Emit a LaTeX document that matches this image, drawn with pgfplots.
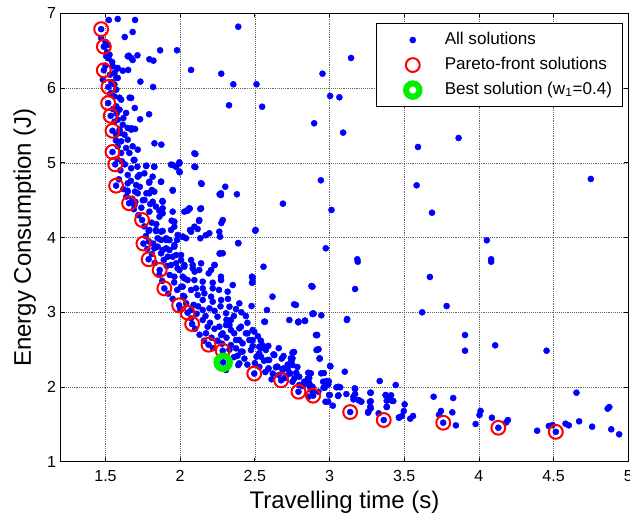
\documentclass[border=0pt]{standalone}
\usepackage{fontspec}
\setmainfont{Liberation Sans}
\usepackage{pgfplots}
\pgfplotsset{compat=1.18}
\definecolor{mblue}{RGB}{0,0,255}
\definecolor{mred}{RGB}{255,0,0}
\definecolor{mgreen}{RGB}{0,240,0}
\begin{document}
\begin{tikzpicture}
\begin{axis}[
  name=ax,
  scale only axis,
  width=425.7pt, height=336.2pt,
  xmin=1.2, xmax=5, ymin=1, ymax=7,
  xtick={1.5,2,2.5,3,3.5,4,4.5,5},
  xticklabels={1.5,2,2.5,3,3.5,4,4.5,5},
  ytick={1,2,3,4,5,6,7},
  yticklabels={1,2,3,4,5,6,7},
  /pgf/number format/assume math mode=true,
  grid=major,
  grid style={densely dotted, gray!80!black, line width=0.5pt},
  axis line style={line width=0.9pt},
  tick style={black, line width=0.6pt},
  major tick length=3pt,
  tick label style={font=\fontsize{12}{14}\selectfont},
  xticklabel style={yshift=-3pt},
  label style={font=\fontsize{18}{21}\selectfont},
  xlabel={Travelling time (s)},
  ylabel={Energy Consumption (J)},
  ylabel style={xshift=0pt, yshift=1.5pt},
  legend image code/.code={\path[draw=none] (-7pt,-6pt) rectangle (33pt,6pt);
     \draw[mark repeat=2,mark phase=2,#1] plot coordinates {(0pt,0pt) (12pt,0pt) (24pt,0pt)};},
  legend cell align=left,
  legend style={at={(0.991,0.9795)}, anchor=north east, draw=black, line width=0.8pt,
     font=\fontsize{12.8}{15}\selectfont, inner xsep=8pt, inner ysep=6.5pt, row sep=6.5pt,
     nodes={draw=none, inner xsep=0pt, inner ysep=0pt, text depth=3pt}},
  /tikz/every odd column/.append style={column sep=3pt},
]
\addplot[only marks, mark=*, mark size=2.3pt, mark options={draw=mblue, fill=mblue, line width=0.3pt}] coordinates {
(1.471,6.79) (1.489,6.556) (1.489,6.24) (1.52,6.016) (1.518,5.80) (1.535,5.63) (1.547,5.43) (1.547,5.146)
(1.565,4.98) (1.571,4.695) (1.658,4.46) (1.745,4.236) (1.754,3.92) (1.789,3.71) (1.863,3.566) (1.894,3.32)
(1.993,3.094) (2.05,2.995) (2.08,2.843) (2.19,2.566) (2.285,2.486) (2.496,2.18) (2.676,2.09) (2.792,1.937)
(2.89,1.884) (3.138,1.665) (3.363,1.558) (3.761,1.522) (4.13,1.455) (4.515,1.40) (2.288,2.33)
(1.522,6.913) (1.582,6.926) (1.698,6.913) (1.629,6.685) (1.682,6.752) (2.389,6.823) (1.866,6.507) (1.979,6.507)
(1.656,6.435) (1.714,6.44) (1.682,6.377) (1.794,6.387) (1.821,6.368) (2.073,6.244) (2.275,6.194) (1.578,6.26)
(1.616,6.234) (1.652,6.244) (1.582,6.137) (1.734,6.087) (1.819,6.016) (2.356,6.052) (2.511,6.052) (2.327,5.771)
(2.549,5.752) (2.897,5.53) (1.594,5.873) (1.662,5.873) (1.696,5.735) (1.732,5.584) (1.792,5.651) (1.676,5.463)
(1.698,5.454) (1.828,5.262) (1.874,5.244) (2.102,5.119) (1.995,5.008) (1.939,4.976) (1.973,4.945) (1.997,4.874)
(2.102,4.945) (1.826,4.949) (1.774,4.963) (1.689,5.039) (1.714,4.949) (1.727,4.838) (1.872,4.748) (1.792,4.735)
(2.144,4.718) (2.302,4.681) (2.264,4.58) (2.38,4.58) (1.95,4.628) (2.688,4.454) (1.881,4.49) (1.81,4.637)
(1.774,4.593) (1.698,4.615) (1.647,4.628) (2.135,4.383) (2.05,4.36) (2.064,4.387) (1.883,4.325) (2.126,4.222)
(1.943,4.226) (2.066,4.102) (2.117,4.115) (2.171,4.031) (2.267,4.012) (2.276,4.195) (2.505,4.102) (2.389,3.928)
(2.264,3.785) (2.019,4.012) (1.979,3.968) (1.926,3.968) (1.789,4.088) (1.838,4.088) (1.883,4.088)
(3.144,6.404) (2.953,6.194) (3.004,5.896) (3.066,5.878) (3.091,5.405) (3.592,5.213) (3.864,5.333) (4.749,4.785)
(2.942,4.767) (3.583,4.70) (3.013,4.37) (3.686,4.333) (4.053,3.964) (2.975,3.857) (3.186,3.71) (4.082,3.71)
(3.189,3.677) (4.082,3.677) (2.882,3.348) (3.171,3.312) (3.672,3.473) (3.784,3.084) (3.62,3.0) (2.893,2.98)
(2.945,2.96) (3.118,2.91) (2.917,2.696) (3.907,2.696) (3.907,2.486) (2.926,2.505) (2.935,2.379) (4.109,2.558)
(4.453,2.486) (3.006,2.277) (2.962,2.187) (3.102,2.205) (3.336,2.08) (3.443,2.027) (2.995,2.076) (2.968,1.991)
(3.06,2.004) (3.169,1.982) (3.276,1.924) (3.376,1.889) (3.412,1.889) (3.697,1.87) (3.828,1.853) (4.653,1.924)
(3.002,1.893) (3.06,1.889) (3.113,1.906) (3.16,1.87) (3.202,1.817) (2.991,1.803) (3.022,1.75) (3.276,1.809)
(3.273,1.736) (3.258,1.656) (3.383,1.817) (3.416,1.817) (3.383,1.736) (3.503,1.768) (3.497,1.679) (3.485,1.612)
(3.465,1.594) (3.54,1.576) (3.559,1.612) (3.329,1.648) (3.746,1.679) (3.733,1.629) (3.822,1.661) (3.846,1.487)
(4.011,1.679) (4.004,1.625) (3.978,1.505) (4.087,1.589) (4.194,1.558) (4.183,1.527) (4.39,1.415) (4.468,1.478)
(4.493,1.491) (4.58,1.509) (4.602,1.487) (4.671,1.541) (4.758,1.469) (4.862,1.71) (4.873,1.732) (4.886,1.434)
(4.939,1.367)
(2.563,2.874) (2.79,2.866) (2.835,2.884) (3.116,2.897) (2.915,2.696) (2.924,2.505) (2.933,2.384) (3.004,2.281)
(2.762,2.469) (2.745,2.348) (2.785,2.268) (2.777,2.191) (2.764,2.116) (2.857,2.191) (2.855,2.116) (2.855,2.04)
(2.868,2.004) (2.944,2.183) (2.957,2.071) (2.98,2.08) (2.992,2.036) (2.96,1.991) (2.925,1.937) (2.973,1.803)
(3.046,1.996) (3.071,1.996) (2.997,1.893) (3.057,1.88) (3.171,1.977) (3.171,1.906) (3.16,1.835) (3.193,1.826)
(3.213,1.803) (3.273,1.924) (3.27,1.803) (3.276,1.715) (3.26,1.67) (3.376,1.893) (3.398,1.84) (3.427,1.813)
(3.383,1.732) (3.465,1.589) (2.628,2.432) (2.59,2.245) (2.612,2.103) (2.648,2.272) (2.692,2.25) (2.708,2.147)
(2.737,2.183) (2.752,2.071) (2.797,2.027) (2.819,2.013) (2.886,1.937) (2.859,1.87) (2.741,2.384) (2.757,2.465)
(2.692,2.415) (2.625,2.437) (2.541,2.522) (2.511,2.406) (2.561,2.352) (2.485,2.549) (2.552,2.558) (2.529,2.451)
(2.596,2.362) (2.384,2.419) (2.396,2.317) (2.418,2.473) (2.485,2.629) (2.451,2.719) (2.362,2.719) (2.396,2.629)
(2.34,2.562) (2.374,2.518) (2.33,2.83) (2.407,2.807) (2.485,2.763) (2.274,2.696)
(2.503,4.092) (2.389,3.924) (2.267,3.79) (2.558,3.61) (2.231,3.633) (2.191,3.522) (2.084,3.589) (2.097,3.544)
(2.05,3.432) (2.151,3.41) (2.218,3.396) (2.274,3.432) (2.352,3.365) (2.485,3.401) (2.481,3.477) (2.318,3.276)
(2.396,3.12) (2.478,3.084) (2.618,3.209) (2.581,3.031) (2.568,2.874) (2.775,3.098) (2.731,2.897) (2.792,2.874)
(2.835,2.888) (2.886,3.343) (2.89,2.987) (2.909,2.696) (2.913,2.495) (2.162,3.254) (2.207,3.209) (2.218,3.142)
(2.274,3.165) (2.151,3.031) (2.196,3.053) (2.25,2.941) (2.307,2.987) (2.33,3.075) (2.374,3.044) (2.262,2.807)
(2.307,2.83) (2.34,2.897) (2.284,2.719) (2.34,2.763) (2.396,2.786) (2.44,2.719) (2.374,2.629) (2.418,2.585)
(2.463,2.629) (2.496,2.741) (2.407,2.473) (2.474,2.495) (2.389,2.294) (2.529,2.539) (2.541,2.406) (2.585,2.362)
(2.63,2.428) (2.574,2.495) (2.752,2.459) (2.752,2.384) (2.652,2.272) (2.173,2.719) (2.184,2.807) (2.151,2.897)
(2.073,2.919) (2.073,3.031) (2.028,3.209) (2.006,3.343) (2.106,3.321) (2.117,3.231) (2.151,3.165) (1.95,3.744)
(1.973,3.656) (2.006,3.767) (2.028,3.61) (1.928,3.834) (1.906,3.968) (1.883,3.834) (1.961,3.901) (1.995,3.566)
(2.017,3.477) (1.983,4.035) (2.084,3.633) (2.307,2.228)
(1.694,5.039) (1.772,4.958) (1.827,4.949) (1.672,4.928) (1.95,4.972) (1.995,4.995) (1.995,4.882) (2.095,4.949)
(2.095,5.128) (2.14,4.727) (1.649,4.838) (1.716,4.815) (1.816,4.815) (1.794,4.748) (1.872,4.748) (1.649,4.727)
(1.705,4.704) (1.649,4.615) (1.716,4.593) (1.794,4.593) (1.827,4.615) (1.95,4.637) (1.761,4.503) (1.816,4.48)
(1.883,4.48) (1.838,4.414) (1.883,4.392) (2.05,4.37) (2.061,4.392) (2.14,4.392) (2.273,4.593) (1.694,4.436)
(1.794,4.347) (1.861,4.28) (1.961,4.213) (1.95,4.347) (2.095,4.146) (2.128,4.235) (2.028,4.347) (1.794,4.102)
(1.838,4.102) (1.872,4.079) (1.939,4.102) (1.961,4.146) (1.85,3.991) (1.872,3.968) (1.906,3.991) (1.928,3.968)
(1.85,3.878) (1.906,3.857) (1.961,3.878) (2.017,4.012) (2.073,4.079) (1.827,3.857) (1.872,3.79) (1.917,3.744)
(1.973,3.767) (2.006,3.70) (1.939,3.633) (1.983,3.589) (2.028,3.633) (2.073,3.70) (2.14,3.656) (1.961,3.477)
(2.028,3.455) (2.095,3.432) (2.128,3.566) (2.207,3.566) (2.229,3.633) (2.017,3.343) (2.073,3.299) (2.151,3.321)
(2.218,3.321) (2.273,3.477) (2.285,4.235) (2.262,4.079) (2.273,4.57) (2.039,3.991) (2.135,3.991) (2.285,3.79)
(2.195,4.058)
(1.493,6.56) (1.515,6.58) (1.505,6.427) (1.527,6.449) (1.471,6.672) (1.482,6.114) (1.549,6.293) (1.582,6.27)
(1.572,6.137) (1.649,6.427) (1.672,6.404) (1.538,5.935) (1.56,5.89) (1.605,5.846) (1.672,5.869) (1.572,5.757)
(1.594,5.712) (1.638,5.668) (1.582,5.578) (1.616,5.511) (1.649,5.467) (1.594,5.445) (1.572,5.378) (1.627,5.378)
(1.672,5.445) (1.605,5.289) (1.649,5.311) (1.582,5.222) (1.638,5.199) (1.682,5.222) (1.716,5.177) (1.605,5.133)
(1.66,5.133) (1.572,5.98) (1.56,6.203)
(1.50,6.62) (1.51,6.48) (1.52,6.40) (1.50,6.30) (1.53,6.18) (1.54,6.08) (1.53,5.92) (1.55,5.72) (1.56,5.55)
(1.57,5.30) (1.58,5.05) (1.60,4.90) (1.59,4.78) (1.62,4.65) (1.64,4.55) (1.69,4.38) (1.72,4.30) (1.76,4.15)
(1.77,4.02) (1.78,3.85) (1.81,3.78) (1.83,3.66) (1.86,3.50) (1.88,3.42) (1.92,3.25) (1.95,3.18) (2.0,3.05)
(2.1,2.78) (2.13,2.70) (2.16,2.62) (2.22,2.52)
(2.485,3.455) (2.481,3.396) (2.763,3.107) (2.792,2.874) (2.836,2.888) (2.886,2.977) (2.879,3.352)
(2.592,2.25) (2.641,2.264) (2.685,2.228) (2.73,2.183) (2.752,2.294) (2.797,2.138) (2.83,2.071) (2.864,2.05)
(2.875,2.183) (2.886,2.004) (2.864,2.12)
(1.545,6.35) (1.56,6.05) (1.575,5.66) (1.60,5.40) (1.62,5.60) (1.61,5.02) (1.63,4.98) (1.67,4.76) (1.68,4.52)
(1.70,4.48) (1.74,4.40) (1.75,4.50) (1.73,4.68) (1.76,4.86) (1.80,4.45) (1.81,4.20) (1.84,4.18) (1.86,4.36)
(1.79,3.95) (1.82,3.92) (1.89,3.70) (1.91,3.62) (1.93,3.50) (1.96,3.40) (1.98,3.30) (2.02,3.22) (2.04,3.12)
(2.09,3.10) (2.11,2.98) (2.12,3.08) (2.17,2.95) (2.20,2.86) (2.23,2.78) (2.21,2.66) (2.25,2.62) (2.28,2.58)
(2.31,2.66) (2.33,2.50) (2.36,2.40) (2.43,2.38) (2.45,2.30) (2.50,2.32) (2.53,2.27) (2.57,2.20) (2.62,2.18)
(2.66,2.16) (2.70,2.12) (2.72,2.24) (2.44,2.95) (2.41,3.00) (2.36,2.95) (2.31,2.90) (2.45,2.86) (2.52,2.68)
(2.54,2.62) (2.59,2.55) (2.66,2.52) (2.68,2.38) (2.72,2.30) (2.23,3.02) (2.27,3.08) (2.32,3.18) (2.26,3.30)
};
\addlegendentry{All solutions}
\addplot[only marks, mark=o, mark size=5.2pt, mark options={draw=mred, line width=1.5pt}] coordinates {
(1.471,6.79) (1.489,6.556) (1.489,6.24) (1.52,6.016) (1.518,5.80) (1.535,5.63) (1.547,5.43) (1.547,5.146)
(1.565,4.98) (1.571,4.695) (1.658,4.46) (1.745,4.236) (1.754,3.92) (1.789,3.71) (1.863,3.566) (1.894,3.32)
(1.993,3.094) (2.05,2.995) (2.08,2.843) (2.19,2.566) (2.285,2.486) (2.496,2.18) (2.676,2.09) (2.792,1.937)
(2.89,1.884) (3.138,1.665) (3.363,1.558) (3.761,1.522) (4.13,1.455) (4.515,1.40)
};
\addlegendentry{Pareto-front solutions}
\addplot[only marks, mark=o, mark size=5pt, mark options={draw=mgreen, line width=4.6pt}] coordinates {
(2.288,2.33)
};
\addlegendentry{Best solution (w\textsubscript{1}=0.4)\rule[-8.5pt]{0pt}{1pt}}
\end{axis}
\pgfresetboundingbox
\path[use as bounding box] ([xshift=-45.5pt,yshift=-41.5pt]ax.south west) rectangle ([xshift=1.3pt,yshift=10.1pt]ax.north east);
\end{tikzpicture}
\end{document}
